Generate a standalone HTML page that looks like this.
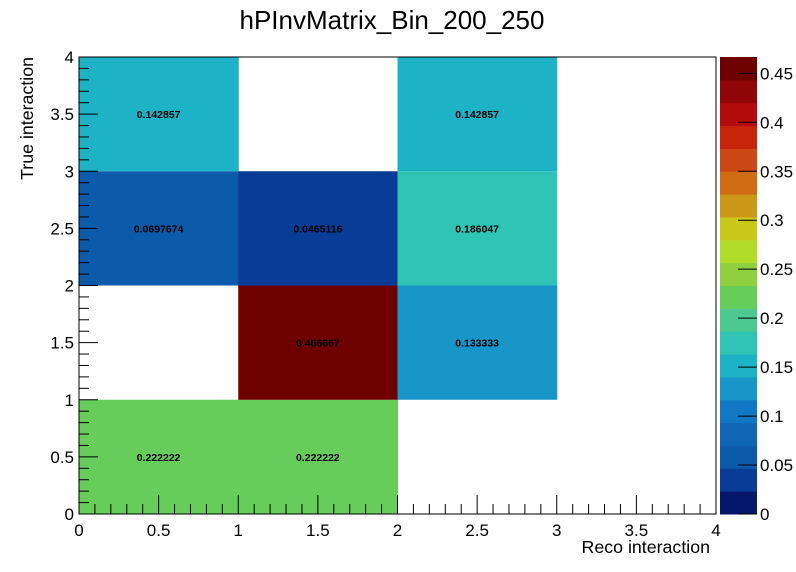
<!DOCTYPE html>
<html><head><meta charset="utf-8"><style>
body{margin:0;background:#fff;}
svg{display:block;font-family:"Liberation Sans",sans-serif;}
</style></head><body>
<svg id="chart" width="796" height="572" viewBox="0 0 796 572">
<rect x="0" y="0" width="796" height="572" fill="#fff"/>
<text x="392" y="29" font-size="26" text-anchor="middle">hPInvMatrix_Bin_200_250</text>
<g id="cells"></g>
<g id="axes"></g>
<g id="palette"></g>
<text x="710" y="553" font-size="17.8" text-anchor="end">Reco interaction</text>
<text transform="translate(33,57) rotate(-90)" font-size="17.8" text-anchor="end">True interaction</text>
</svg>
<script>
const cellX = [0, 1, 1, 2, 0, 1, 2, 0, 2];
const cellY = [0, 0, 1, 1, 2, 2, 2, 3, 3];
const cellValues = [0.222222, 0.222222, 0.466667, 0.133333, 0.0697674, 0.0465116, 0.186047, 0.142857, 0.142857];
const xTicks = ["0","0.5","1","1.5","2","2.5","3","3.5","4"];
const yTicks = ["0","0.5","1","1.5","2","2.5","3","3.5","4"];
const zTicks = ["0","0.05","0.1","0.15","0.2","0.25","0.3","0.35","0.4","0.45"];
const zMax = 0.466667;
const paletteColors = ["#06186c","#083c96","#0c5aaa","#0e66b4","#1078c4","#1896c8","#1eb2c6","#30c4b4","#4cc890","#66cc5a","#8ed040","#b0dc28","#c8c818","#cc9818","#d06c14","#cc4814","#c8240c","#b40c0c","#900606","#6e0000"];

const NS = "http://www.w3.org/2000/svg";
const L = 79, R = 716, T = 57, B = 514;
const xs = v => L + v / 4 * (R - L);
const ys = v => B - v / 4 * (B - T);
const PL = 720, PR = 757;
const zs = v => B - v / zMax * (B - T);
function mk(tag, attrs, parent){const e=document.createElementNS(NS,tag);for(const k in attrs)e.setAttribute(k,attrs[k]);parent.appendChild(e);return e;}
function colorOf(v){let i=Math.floor(v/zMax*paletteColors.length);if(i>=paletteColors.length)i=paletteColors.length-1;if(i<0)i=0;return paletteColors[i];}

const cellsG = document.getElementById('cells');
for(let i=0;i<cellValues.length;i++){
  const x0=xs(cellX[i]), x1=xs(cellX[i]+1), y0=ys(cellY[i]+1), y1=ys(cellY[i]);
  const r = mk('rect',{x:x0,y:y0,width:x1-x0+0.5,height:y1-y0,fill:colorOf(cellValues[i])},cellsG);
  
  
  const t = mk('text',{x:(x0+x1)/2,y:(y0+y1)/2+4,'font-size':10.5,'font-weight':'bold','text-anchor':'middle'},cellsG);
  t.textContent = String(cellValues[i]);
  
  
}

const ax = document.getElementById('axes');
const frame = mk('rect',{x:L,y:T,width:R-L,height:B-T,fill:'none',stroke:'#000','stroke-width':1},ax);


for(let k=0;k<=40;k++){
  const v=k/10, major=k%5===0, len=major?19:10;
  const tx = mk('line',{x1:xs(v),x2:xs(v),y1:B,y2:B-len,stroke:'#000'},ax);
  
  
  const ty = mk('line',{x1:L,x2:L+len,y1:ys(v),y2:ys(v),stroke:'#000'},ax);
  
  
}
xTicks.forEach((s,i)=>{
  const t=mk('text',{x:xs(i*0.5),y:B+22,'font-size':17,'text-anchor':'middle'},ax);
  t.textContent=s;
  
  
});
yTicks.forEach((s,i)=>{
  const t=mk('text',{x:L-5,y:ys(i*0.5)+6,'font-size':17,'text-anchor':'end'},ax);
  t.textContent=s;
  
  
});

const pg = document.getElementById('palette');
paletteColors.forEach((c,i)=>{
  const v0=i*zMax/paletteColors.length, v1=(i+1)*zMax/paletteColors.length;
  const r=mk('rect',{x:PL,y:zs(v1),width:PR-PL,height:zs(v0)-zs(v1)+0.5,fill:c},pg);
  
  
});
zTicks.forEach((s,i)=>{
  const v=parseFloat(s);
  const l=mk('line',{x1:PR-19,x2:PR,y1:zs(v),y2:zs(v),stroke:'#000'},pg);
  
  
  const t=mk('text',{x:PR+3,y:zs(v)+6,'font-size':17},pg);
  t.textContent=s;
  
  
});
</script>
</body></html>
